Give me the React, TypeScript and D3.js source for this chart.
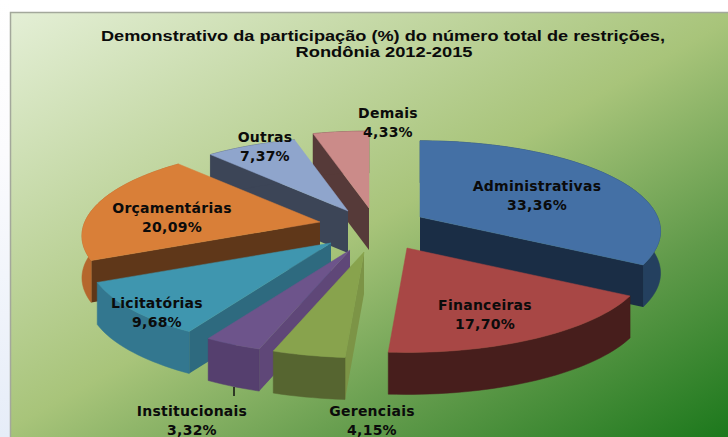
import React from 'react'
import * as d3 from 'd3'

const width = 728
const height = 437

// data
const categories = ['Administrativas', 'Financeiras', 'Gerenciais', 'Institucionais', 'Licitatórias', 'Orçamentárias', 'Outras', 'Demais']
const shares = [33.36, 17.7, 4.15, 3.32, 9.68, 20.09, 7.37, 4.33]

const topColors = ['#4470a5', '#a84745', '#88a34d', '#6d548b', '#3f96af', '#d97f38', '#8fa5cc', '#cb8b89']
const outerColors = ['#24405f', '#471e1c', '#566530', '#553f6e', '#33778f', '#b5672d', '#3c4557', '#563a39']
const sideColors = ['#1a2d45', '#471e1c', '#7c9446', '#5f4778', '#2e6a7f', '#5f3719', '#3c4557', '#563a39']

// where each exploded slice has its tip, and how far its rim reaches
const tipX = [420, 407, 364, 350, 331, 320, 348, 369]
const tipY = [217, 248, 252, 250, 243, 222, 211, 208]
const rimScale = [0.99, 0.99, 1, 1, 1, 0.98, 0.95, 1]

const labelX = [537, 485, 372, 192, 157, 172, 265, 388]
const labelY = [191, 310, 416, 416, 308, 213, 142, 118]

// back to front
const drawOrder = [7, 6, 5, 4, 3, 2, 0, 1]

const radiusX = 240
const planeY = 89
const persp = 0.158
const depth = 42

const pieAngles = d3.pie<number>().sort(null)(shares)
const formatShare = (v: number) => d3.format('.2f')(v).replace('.', ',') + '%'
const toLine = d3.line<[number, number]>()

function project(i: number, angle: number, r = 1, drop = 0): [number, number] {
  const u = Math.sin(angle) * r * rimScale[i]
  const v = -Math.cos(angle) * r * rimScale[i]
  const w = 1 - persp * v
  return [tipX[i] + (radiusX * u) / w, tipY[i] + (planeY * v) / w + drop]
}

function rimAngles(a0: number, a1: number) {
  const steps = Math.max(4, Math.ceil((a1 - a0) / 0.03))
  return d3.range(steps + 1).map((k) => a0 + ((a1 - a0) * k) / steps)
}

function Slice({ i }: { i: number }) {
  const { startAngle: a0, endAngle: a1 } = pieAngles[i]
  const rim = rimAngles(a0, a1)
  const top = [project(i, a0, 0), ...rim.map((a) => project(i, a))]
  const wall = [...rim.map((a) => project(i, a)), ...rim.slice().reverse().map((a) => project(i, a, 1, depth))]
  const side = (a: number) => [project(i, a, 0), project(i, a), project(i, a, 1, depth), project(i, a, 0, depth)]
  return (
    <g>
      {-Math.sin(a0) > 0 && <path d={toLine(side(a0) as [number, number][]) + 'Z'} fill={sideColors[i]} />}
      <path d={toLine(wall) + 'Z'} fill={outerColors[i]} stroke={outerColors[i]} strokeWidth={0.5} />
      {Math.sin(a1) > 0 && <path d={toLine(side(a1) as [number, number][]) + 'Z'} fill={sideColors[i]} />}
      <path d={toLine(top) + 'Z'} fill={topColors[i]} stroke={topColors[i]} strokeWidth={0.5} />
    </g>
  )
}

export default function App() {
  return (
    <svg width={width} height={height} style={{ position: 'fixed', left: 0, top: 0, background: '#fff' }}>
      <defs>
        <linearGradient id="panel" gradientUnits="userSpaceOnUse" x1={10} y1={12} x2={367} y2={642}>
          <stop offset="0" stopColor="#e4efd6" />
          <stop offset="0.5" stopColor="#a8c47a" />
          <stop offset="0.75" stopColor="#609a4a" />
          <stop offset="1" stopColor="#1c781c" />
        </linearGradient>
        <linearGradient id="strip" x1="0" y1="0" x2="0" y2="1">
          <stop offset="0" stopColor="#ffffff" />
          <stop offset="0.35" stopColor="#fbfbfd" />
          <stop offset="1" stopColor="#e6edf8" />
        </linearGradient>
      </defs>
      <rect x={0} y={0} width={10} height={height} fill="url(#strip)" />
      <rect x={10.5} y={12.5} width={730} height={440} fill="url(#panel)" stroke="#a3a89b" strokeWidth={1.5} />

      <text x={383} y={41} textAnchor="middle" fontFamily="Liberation Sans" fontWeight="bold" fontSize={14.5} textLength={564} lengthAdjust="spacingAndGlyphs" fill="#0b0b0b">
        Demonstrativo da participação (%) do número total de restrições,
      </text>
      <text x={384} y={57} textAnchor="middle" fontFamily="Liberation Sans" fontWeight="bold" fontSize={14.5} textLength={177} lengthAdjust="spacingAndGlyphs" fill="#0b0b0b">
        Rondônia 2012-2015
      </text>

      {drawOrder.map((i) => (
        <Slice key={categories[i]} i={i} />
      ))}

      <path d={toLine([[234, 387], [234, 396]]) as string} stroke="#111" strokeWidth={1.5} fill="none" />

      {categories.map((c, i) => (
        <text key={c} x={labelX[i]} y={labelY[i]} textAnchor="middle" fontFamily="DejaVu Sans" fontWeight="bold" fontSize={14} letterSpacing={0.25} fill="#0b0b0b">
          <tspan x={labelX[i]}>{c}</tspan>
          <tspan x={labelX[i]} dy={19}>{formatShare(shares[i])}</tspan>
        </text>
      ))}
    </svg>
  )
}
